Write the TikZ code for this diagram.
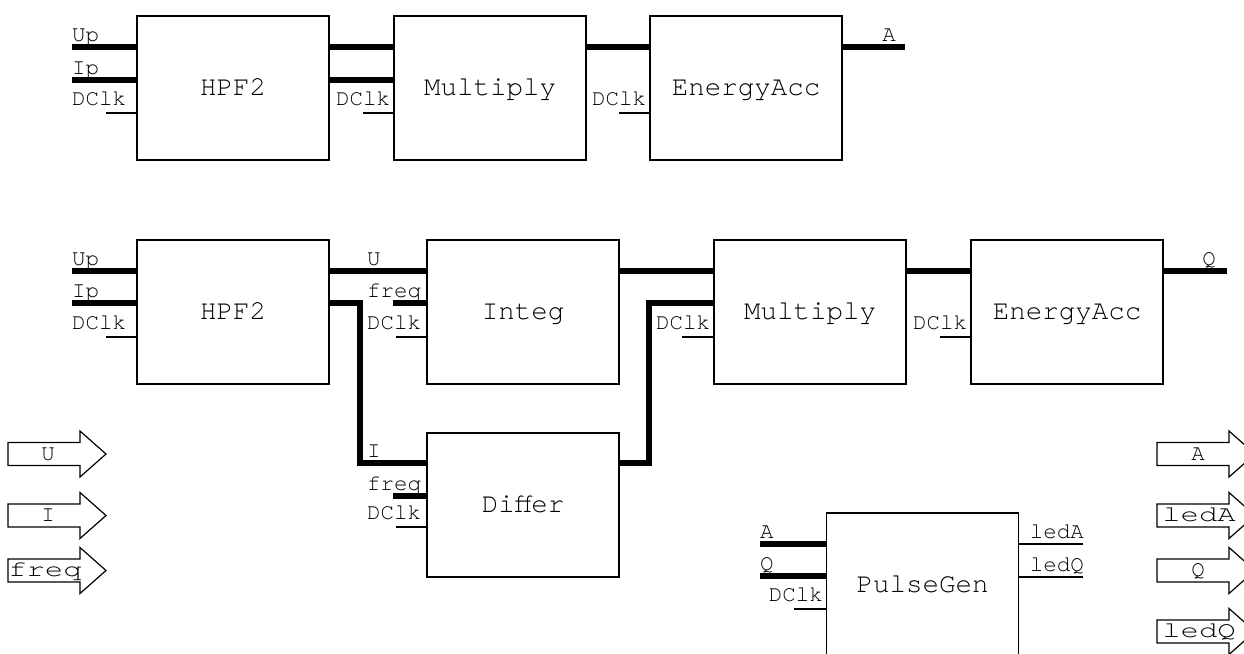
\documentclass[tikz,border=0pt]{standalone}
\usepackage{fontspec}
\newfontfamily\blkfont{TeX Gyre Cursor}
\newfontfamily\pinfont{TeX Gyre Cursor}
\newfontfamily\widefont[FakeStretch=1.36]{TeX Gyre Cursor}
\usetikzlibrary{calc}

\begin{document}
\begin{tikzpicture}[x=1pt,y=-1pt,
  blk/.style={draw, line width=1.3pt, minimum width=192pt, minimum height=144pt,
    inner sep=0pt, text height=15.4pt, text depth=0pt,
    font=\blkfont\fontsize{27.5}{30}\selectfont},
  bus/.style={line width=5.5pt},
  wire/.style={line width=1.2pt},
  pinlbl/.style={inner sep=0pt, font=\pinfont\fontsize{22.5}{25}\selectfont},
  lblW/.style={pinlbl, anchor=base west},
  lblE/.style={pinlbl, anchor=base east},
  portlbl/.style={inner sep=0pt, anchor=base, font=\pinfont\fontsize{22.5}{25}\selectfont},
  portwide/.style={inner sep=0pt, anchor=base, font=\widefont\fontsize{22.5}{25}\selectfont},
  portshape/.pic={\draw[line width=1.2pt] (0,-11.5) -- (72,-11.5) -- (72,-23)
      -- (98,0) -- (72,23) -- (72,11.5) -- (0,11.5) -- cycle;}
]
\useasboundingbox (0,0) rectangle (1244,653);

% ---------- blocks ----------
\node[blk] (hpfA)   at (233,88)    {HPF2};
\node[blk] (mulA)   at (490,88)    {Multiply};
\node[blk] (accA)   at (746,88)    {EnergyAcc};
\node[blk] (hpfB)   at (233,312)   {HPF2};
\node[blk] (integ)  at (523,312)   {Integ};
\node[blk] (mulB)   at (810,312)   {Multiply};
\node[blk] (accB)   at (1067,312)  {EnergyAcc};
\node[blk] (differ) at (523,505)   {Differ};
\node[blk] (pulse)  at (922.5,585) {PulseGen};

% ---------- first chain ----------
\coordinate (upA) at (72,47);
\coordinate (ipA) at (72,80);
\coordinate (ckA) at (106,113);
\draw[bus]  (upA) -- (upA -| hpfA.west);
\draw[bus]  (ipA) -- (ipA -| hpfA.west);
\draw[wire] (ckA) -- (ckA -| hpfA.west);
\node[lblW] (lUpA) at (72,41)  {Up};
\node[lblW] (lIpA) at (72,74)  {Ip};
\node[lblW] (lCkA) at (72,105) {DClk};

\draw[bus] (upA -| hpfA.east) -- (upA -| mulA.west);
\draw[bus] (ipA -| hpfA.east) -- (ipA -| mulA.west);
\coordinate (ckMA) at (363,113);
\draw[wire] (ckMA) -- (ckMA -| mulA.west);
\node[lblW] (lCkMA) at (336,105) {DClk};

\draw[bus] (upA -| mulA.east) -- (upA -| accA.west);
\coordinate (ckEA) at (619,113);
\draw[wire] (ckEA) -- (ckEA -| accA.west);
\node[lblW] (lCkEA) at (592,105) {DClk};

\coordinate (outA) at (905,47);
\draw[bus] (outA -| accA.east) -- (outA);
\node[lblE] (lOutA) at (896,41) {A};

% ---------- second chain ----------
\coordinate (upB) at (72,271);
\coordinate (ipB) at (72,303);
\coordinate (ckB) at (106,337);
\draw[bus]  (upB) -- (upB -| hpfB.west);
\draw[bus]  (ipB) -- (ipB -| hpfB.west);
\draw[wire] (ckB) -- (ckB -| hpfB.west);
\node[lblW] (lUpB) at (72,265) {Up};
\node[lblW] (lIpB) at (72,297) {Ip};
\node[lblW] (lCkB) at (72,329) {DClk};

% HPF2 -> Integ (U)
\draw[bus] (upB -| hpfB.east) -- (upB -| integ.west);
\node[lblW] (lU) at (367,265) {U};
% HPF2 -> Differ (I)
\coordinate (bendI) at (360,463);
\draw[bus] (ipB -| hpfB.east) -| (bendI) -- (bendI -| differ.west);
\node[lblW] (lI) at (367,457) {I};

% Integ inputs
\coordinate (fqI) at (393,303);
\draw[bus] (fqI) -- (fqI -| integ.west);
\node[lblW] (lFqI) at (367,297) {freq};
\coordinate (ckI) at (396,337);
\draw[wire] (ckI) -- (ckI -| integ.west);
\node[lblW] (lCkI) at (367,329) {DClk};

% Differ inputs
\coordinate (fqD) at (393,496);
\draw[bus] (fqD) -- (fqD -| differ.west);
\node[lblW] (lFqD) at (367,490) {freq};
\coordinate (ckD) at (396,527);
\draw[wire] (ckD) -- (ckD -| differ.west);
\node[lblW] (lCkD) at (367,519) {DClk};

% Integ -> Multiply, Differ -> Multiply
\draw[bus] (upB -| integ.east) -- (upB -| mulB.west);
\coordinate (bendD) at (649,463);
\draw[bus] (bendD -| differ.east) -- (bendD) |- (ipB -| mulB.west);

\coordinate (ckMB) at (682,337);
\draw[wire] (ckMB) -- (ckMB -| mulB.west);
\node[lblW] (lCkMB) at (656,329) {DClk};

% Multiply -> EnergyAcc -> Q
\draw[bus] (upB -| mulB.east) -- (upB -| accB.west);
\coordinate (ckEB) at (940,337);
\draw[wire] (ckEB) -- (ckEB -| accB.west);
\node[lblW] (lCkEB) at (913,329) {DClk};

\coordinate (outQ) at (1227,271);
\draw[bus] (outQ -| accB.east) -- (outQ);
\node[lblE] (lOutQ) at (1216,265) {Q};

% ---------- pulse generator ----------
\coordinate (pA) at (760,544);
\coordinate (pQ) at (760,576);
\coordinate (pCk) at (794,609);
\draw[bus]  (pA) -- (pA -| pulse.west);
\draw[bus]  (pQ) -- (pQ -| pulse.west);
\draw[wire] (pCk) -- (pCk -| pulse.west);
\node[lblW] (lpA)  at (760,538) {A};
\node[lblW] (lpQ)  at (760,570) {Q};
\node[lblE] (lpCk) at (823,601) {DClk};

\coordinate (ledA) at (1083,544);
\coordinate (ledQ) at (1083,577);
\draw[wire] (ledA -| pulse.east) -- (ledA);
\draw[wire] (ledQ -| pulse.east) -- (ledQ);
\node[lblE] (lLedA) at (1084,538) {ledA};
\node[lblE] (lLedQ) at (1084,571) {ledQ};

% ---------- port symbols ----------
\pic at (8,454)   {portshape};
\pic at (8,515.5) {portshape};
\pic at (8,570.5) {portshape};
\node[portlbl]  (pinU)    at (48,460) {U};
\node[portlbl]  (pinI)    at (48,521.5) {I};
\node[portwide] (pinFreq) at (45,576.5) {freq};

\pic at (1157,454)   {portshape};
\pic at (1157,515.5) {portshape};
\pic at (1157,570.5) {portshape};
\pic at (1157,631.5) {portshape};
\node[portlbl]  (poA)    at (1198,460)   {A};
\node[portwide] (poLedA) at (1199,521.5) {ledA};
\node[portlbl]  (poQ)    at (1198,576.5) {Q};
\node[portwide] (poLedQ) at (1199,637.5) {ledQ};
\end{tikzpicture}
\end{document}
